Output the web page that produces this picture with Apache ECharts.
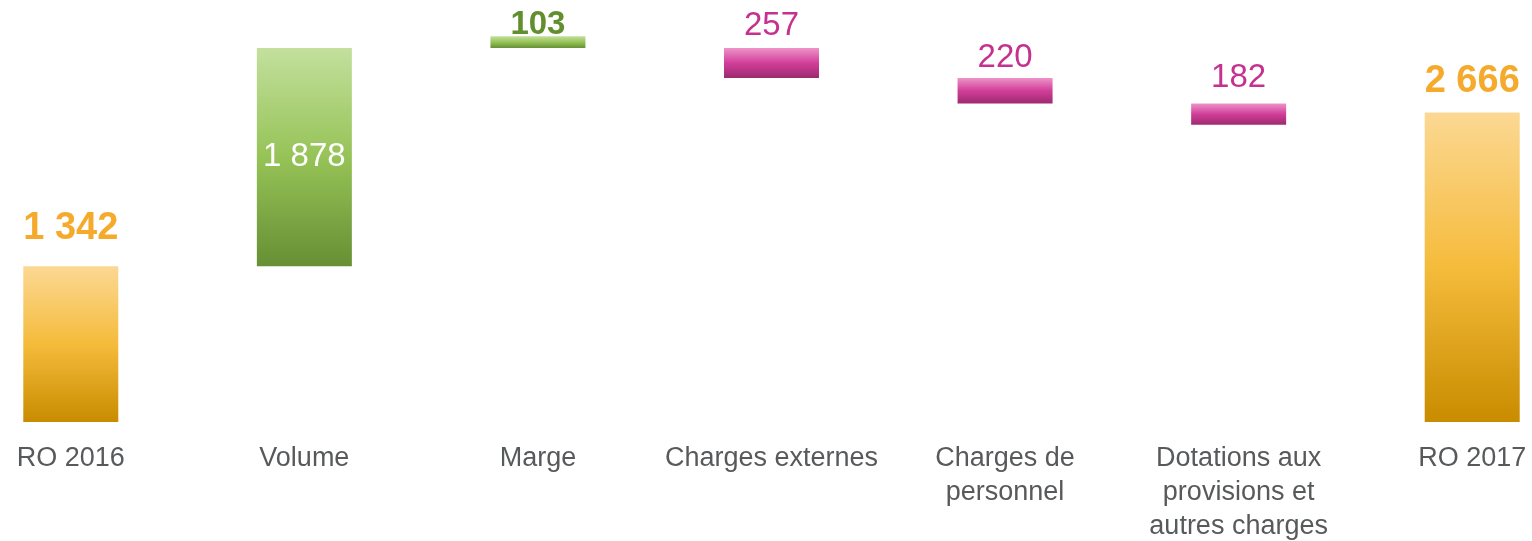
<!DOCTYPE html>
<html><head><meta charset="utf-8">
<script src="https://cdn.jsdelivr.net/npm/echarts@6/dist/echarts.min.js"></script>
<style>html,body{margin:0;padding:0;background:#fff;overflow:hidden;width:1532px;height:541px}#c{position:absolute;left:-46px;top:0;width:1635px;height:541px}</style>
</head><body><div id="c"></div>
<script>
var categories = ['RO 2016', 'Volume', 'Marge', 'Charges externes', 'Charges de\npersonnel', 'Dotations aux\nprovisions et\nautres charges', 'RO 2017'];
var values = [1342, 1878, 103, 257, 220, 182, 2666];
var bases = [0, 1342, 3220, 2963, 2743, 2561, 0];
var kinds = ['total', 'up', 'up', 'down', 'down', 'down', 'total'];
var valueLabels = ['1 342', '1 878', '103', '257', '220', '182', '2 666'];

function grad(a, b, c) {
  return {type: 'linear', x: 0, y: 0, x2: 0, y2: 1,
    colorStops: [{offset: 0, color: a}, {offset: 0.5, color: b}, {offset: 1, color: c}]};
}
var styles = {
  total: {fill: grad('#fbd893', '#f5bb3b', '#c98c00'), text: '#f5aa2c', bold: true, size: 38},
  up: {fill: grad('#c3e09d', '#96c357', '#678f34'), text: '#628f2e', bold: true, size: 33},
  down: {fill: grad('#ee93c9', '#d23e99', '#9c2a70'), text: '#c5318e', bold: false, size: 33}
};
var labelDist = [19, 0, -5, 6, 4, 9, 12];

var items = values.map(function (v, i) {
  var s = styles[kinds[i]];
  var inside = (i === 1);
  return {
    value: v,
    itemStyle: {color: s.fill},
    label: {
      show: true,
      position: inside ? 'inside' : 'top',
      distance: labelDist[i],
      formatter: valueLabels[i],
      color: inside ? '#ffffff' : s.text,
      fontWeight: (s.bold && !inside) ? 'bold' : 'normal',
      fontSize: s.size,
      fontFamily: 'Liberation Sans'
    }
  };
});

var chart = echarts.init(document.getElementById('c'));
chart.setOption({
  animation: false,
  grid: {left: 0, right: 0, top: 4, bottom: 119, containLabel: false, outerBoundsMode: 'none'},
  xAxis: {
    type: 'category', data: categories,
    axisLine: {show: false}, axisTick: {show: false},
    axisLabel: {color: '#58595b', fontSize: 27, fontFamily: 'Liberation Sans', lineHeight: 34, margin: 20, interval: 0}
  },
  yAxis: {type: 'value', min: 0, max: 3600, show: false, splitLine: {show: false}},
  series: [
    {type: 'bar', stack: 'w', data: bases, barWidth: 95, itemStyle: {color: 'transparent'}, silent: true},
    {type: 'bar', stack: 'w', data: items, barWidth: 95}
  ]
});
</script></body></html>
